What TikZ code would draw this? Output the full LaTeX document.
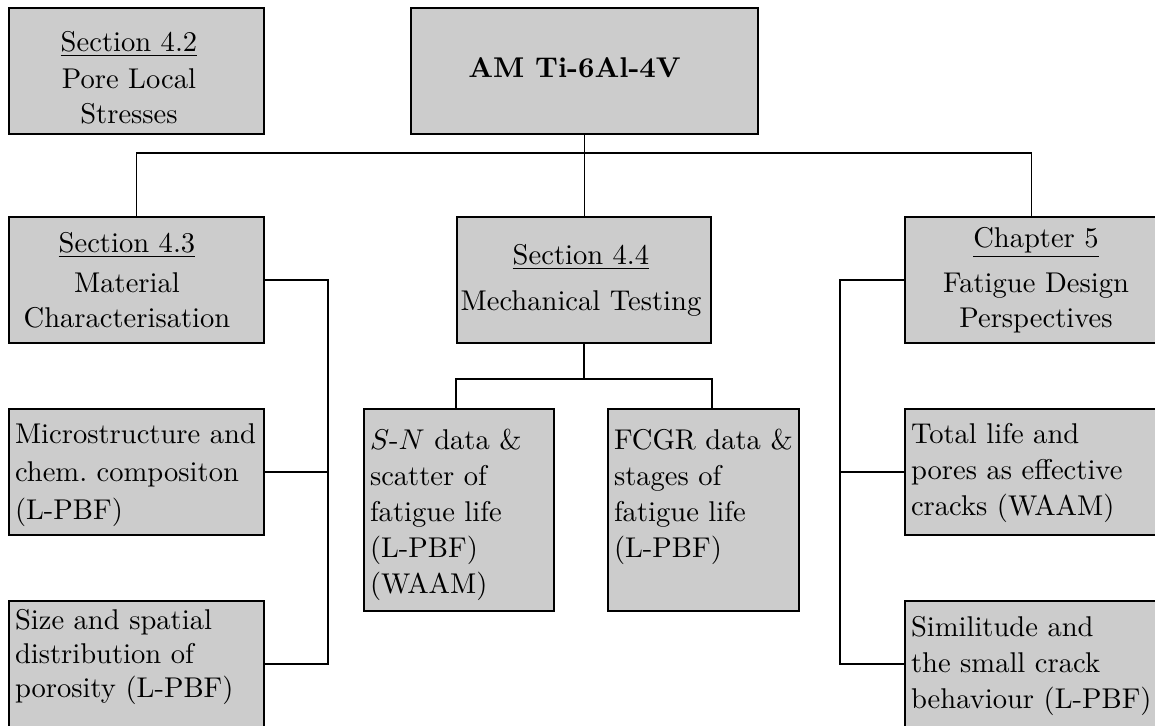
\documentclass[tikz,border=0pt]{standalone}
\usetikzlibrary{calc}
\tikzset{
  box/.style={draw=black, fill=black!20, line width=0.6pt, inner sep=0pt, outer sep=0pt, anchor=north west},
  conn/.style={draw=black, line width=0.45pt},
  ctxt/.style={inner sep=0pt, outer sep=0pt, align=center, anchor=north, font=\fontsize{10pt}{12.25pt}\selectfont},
  ltxt/.style={inner sep=0pt, outer sep=0pt, align=left, anchor=north west, font=\fontsize{10pt}{12.6pt}\selectfont},
}
\newcommand\mkbox[5]{\node[box, minimum width={#4*0.35pt}, minimum height={#5*0.35pt}] (#1) at (#2,#3) {};}
\newcommand\topstrut{\rule{0pt}{8pt}}
\begin{document}
\begin{tikzpicture}[x=0.35pt, y=-0.35pt]
\useasboundingbox (0,0) rectangle (1155,725);
\fill[white] (0,0) rectangle (1155,725);
\clip (0,0) rectangle (1155,725);

% boxes
\mkbox{pore}{9}{8}{255}{126}
\mkbox{root}{411}{8}{347}{126}
\mkbox{secA}{9}{217}{255}{126}
\mkbox{secB}{457}{217}{254}{126}
\mkbox{secC}{905}{217}{253}{126}
\mkbox{micro}{9}{409}{255}{126}
\mkbox{size}{9}{601}{255}{126}
\mkbox{sn}{364}{409}{190}{202}
\mkbox{fc}{608}{409}{191}{202}
\mkbox{total}{905}{409}{253}{126}
\mkbox{simil}{905}{601}{253}{126}

% helper coordinates
\coordinate (bus) at (584,153);
\coordinate (spL) at (328,0);
\coordinate (spR) at (840,0);
\coordinate (j2) at (584,379);
\coordinate (dL) at (456,0);
\coordinate (dR) at (712,0);

% connectors
\draw[conn] (root.south) -- (root.south |- secB.north);
\draw[conn] (secA.north) |- (bus) -| (secC.north);
\draw[conn] (secA.east) -| (spL |- size.east) -- (size.east);
\draw[conn] (micro.east) -- (micro.east -| spL);
\draw[conn] (secC.west) -| (spR |- simil.west) -- (simil.west);
\draw[conn] (total.west) -- (total.west -| spR);
\draw[conn] (secB.south) -- (j2);
\draw[conn] (sn.north -| dL) |- (j2) -| (fc.north -| dR);

% texts
\node[ctxt] (tpore) at (129,28.14) {\topstrut\underline{Section 4.2}\\[0.7pt]Pore Local\\Stresses};
\node[ctxt, font=\fontsize{10pt}{12.25pt}\selectfont\bfseries] (troot) at (574.5,54.14) {\topstrut AM Ti-6Al-4V};
\node[ctxt] (tsecA) at (127,229.14) {\topstrut\underline{Section 4.3}\\[1.75pt]Material\\Characterisation};
\node[ctxt] (tsecB) at (581,241.14) {\topstrut\underline{Section 4.4}\\[3.85pt]Mechanical Testing};
\node[ctxt] (tsecC) at (1036,224.14) {\topstrut\underline{Chapter 5}\\[3.5pt]Fatigue Design\\Perspectives};

\node[ltxt, font=\fontsize{10pt}{13.3pt}\selectfont] (tmicro) at (15,420.14) {\topstrut Microstructure and\\chem.\ compositon\\(L-PBF)};
\node[ltxt, font=\fontsize{10pt}{11.9pt}\selectfont] (tsize) at (15,606.14) {\topstrut Size and spatial\\distribution of\\porosity (L-PBF)};
\node[ltxt] (tsn) at (370,426.14) {\topstrut$S$-$N$ data \&\\scatter of\\fatigue life\\(L-PBF)\\(WAAM)};
\node[ltxt] (tfc) at (614,426.14) {\topstrut FCGR data \&\\stages of\\fatigue life\\(L-PBF)};
\node[ltxt] (ttotal) at (911,420.14) {\topstrut Total life and\\pores as effective\\cracks (WAAM)};
\node[ltxt] (tsimil) at (911,613.14) {\topstrut Similitude and\\the small crack\\behaviour (L-PBF)};
\end{tikzpicture}
\end{document}
